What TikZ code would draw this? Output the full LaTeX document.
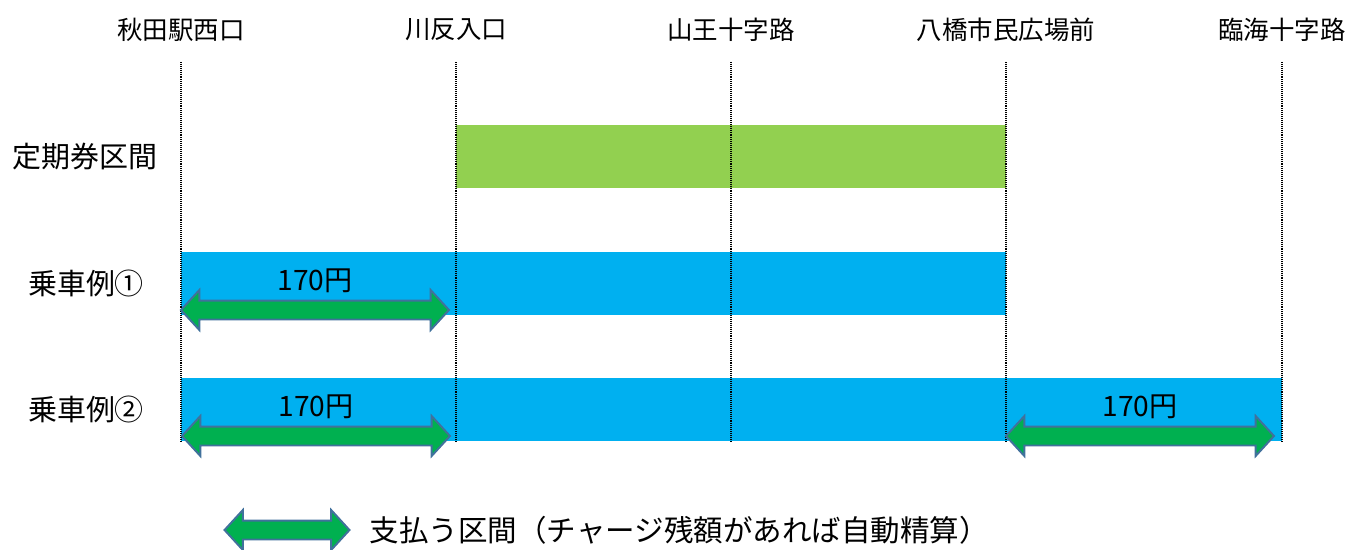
\documentclass[tikz,border=0pt]{standalone}
\usepackage{fontspec}
\setmainfont{Noto Sans CJK JP}
\usetikzlibrary{positioning, shapes.arrows}

\definecolor{barblue}{HTML}{00B0F0}
\definecolor{bargreen}{HTML}{92D050}
\definecolor{payfill}{HTML}{00B050}
\definecolor{payedge}{HTML}{41719C}

\tikzset{
  guide/.style={line width=1.1pt, dash pattern=on 0.55pt off 0.55pt},
  lbl/.style={font=\fontsize{14.5}{17}\selectfont, inner sep=0},
  row/.style={lbl, font=\fontsize{16.5}{19}\selectfont},
  fare/.style={lbl, font=\fontsize{16}{19}\selectfont},
  pay/.style={double arrow, draw=payedge, fill=payfill, line width=1.1pt,
    inner xsep=0, inner ysep=0.17cm, double arrow head extend=0.21cm,
    double arrow tip angle=95, outer sep=0}
}

\begin{document}
\begin{tikzpicture}[x=0.02cm, y=-0.02cm]
   \useasboundingbox (0,0) rectangle (1359,549);

   % bars
   \fill[bargreen] (456,125) rectangle (1006,188);
   \fill[barblue] (181,252) rectangle (1006,315);
   \fill[barblue] (181,378) rectangle (1282,441);

   % stations and guide lines
   \foreach \x/\name [count=\i] in {181/秋田駅西口, 456/川反入口, 731/山王十字路, 1006/八橋市民広場前, 1282/臨海十字路} {
     \node[lbl] (st\i) at (\x,30) {\name};
     \coordinate (top\i) at (\x,62);
     \coordinate (bot\i) at (\x,441);
     \draw[guide] (top\i) -- (bot\i);
   }

   % rows
   \node[row] (pass)  at (85,157) {定期券区間};
   \node[row] (ride1) at (86,283) {乗車例①};
   \node[row] (ride2) at (86,409) {乗車例②};

   % paid sections
   \node[pay, minimum height=5.36cm] (pay1)  at (315,310) {};
   \node[fare, above=0.14cm of pay1] (fare1) {170円};
   \node[pay, minimum height=5.36cm] (pay2)  at (316,436) {};
   \node[fare, above=0.14cm of pay2] (fare2) {170円};
   \node[pay, minimum height=5.36cm] (pay3)  at (1140,436) {};
   \node[fare, above=0.14cm of pay3] (fare3) {170円};

   % legend
   \node[pay, minimum height=2.5cm] (key) at (287,530) {};
   \node[lbl, font=\fontsize{16.8}{19}\selectfont, right=0.4cm of key] (keytext) {支払う区間（チャージ残額があれば自動精算）};
\end{tikzpicture}
\end{document}
